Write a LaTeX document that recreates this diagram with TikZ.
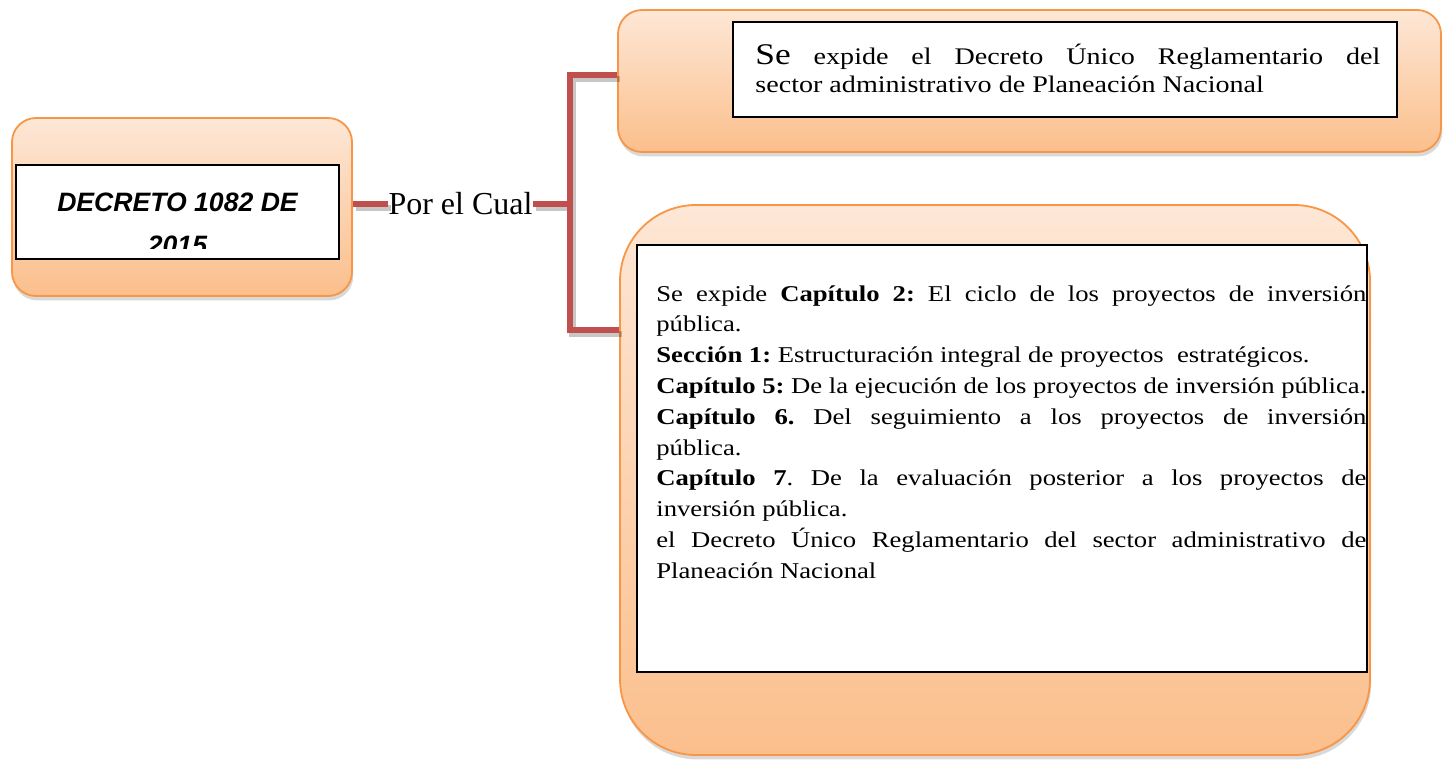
\documentclass[tikz,border=0pt]{standalone}
\usepackage{fontspec}
\setmainfont{Liberation Serif}
\newfontfamily\boxfont{Liberation Serif}[FakeStretch=1.18]
\newfontfamily\titlefont{Liberation Sans}
\usetikzlibrary{positioning,shadows}
\frenchspacing

\definecolor{peachtop}{HTML}{FDE7D6}
\definecolor{peachbot}{HTML}{FBBF8C}
\definecolor{orangeline}{HTML}{F79646}
\definecolor{branchred}{HTML}{C0504D}

\tikzset{
  mapbox/.style={draw=orangeline, line width=0.9pt, top color=peachtop, bottom color=peachbot,
    drop shadow={shadow xshift=0.6pt, shadow yshift=-2.2pt, opacity=0.3}},
  textbox/.style={draw=black, fill=white, line width=0.6pt},
  branch/.style={draw=branchred, line width=3pt,
    preaction={draw=black, opacity=0.22, line width=3.4pt, transform canvas={shift={(1.4pt,-2pt)}}}}
}

\begin{document}
\begin{tikzpicture}[x=0.5pt,y=-0.5pt]
\useasboundingbox (0,0) rectangle (1452,761);

 % el decreto
  \node[mapbox, rounded corners=12pt, minimum width=170pt, minimum height=89pt] (decreto) at (182,207) {};
  \node[textbox, minimum width=161.5pt, minimum height=47pt] (decretotxt) at (177.5,212) {};
  \begin{scope}
    \clip (16,165) rectangle (339,248);
    \node[font=\titlefont\bfseries\itshape\fontsize{13.3}{21.5}\selectfont, align=center, anchor=north, inner sep=0pt]
      (decretolbl) at (177.5,193) {DECRETO 1082 DE\\2015};
  \end{scope}

 % por el cual
  \node[font=\fontsize{16}{19}\selectfont, inner xsep=0pt, inner ysep=2pt] (porelcual) at (460.5,204) {Por el Cual};
  \coordinate (brtop) at (570,75);
  \coordinate (brbot) at (570,330);

 % las dos ramas
  \node[mapbox, rounded corners=12pt, minimum width=411.5pt, minimum height=71pt] (expide) at (1029.5,81) {};
  \node[textbox, minimum width=332pt, minimum height=47.5pt] (expidetxt) at (1065,69.5) {};
  \node[font=\boxfont\fontsize{11.9}{14}\selectfont, text width=312.5pt, align=justify, anchor=north west, inner sep=0pt]
    (expidelbl) at (755,44) {{\fontsize{15}{14}\selectfont Se} expide el Decreto Único Reglamentario del\linebreak
    sector administrativo de Planeación Nacional};

  \node[mapbox, rounded corners=38pt, minimum width=375pt, minimum height=275pt] (capitulos) at (995,480) {};
  \node[textbox, minimum width=365pt, minimum height=213.5pt] (capitulostxt) at (1002,458.5) {};
  \node[font=\boxfont\fontsize{11.3}{15.4}\selectfont, text width=355pt, align=justify, anchor=north west, inner sep=0pt]
    (capituloslbl) at (656,285) {Se expide \textbf{Capítulo 2:} El ciclo de los proyectos de inversión\linebreak pública.\\
    \textbf{Sección 1:} Estructuración integral de proyectos\ \ estratégicos.\\
    \textbf{Capítulo 5:} De la ejecución de los proyectos de inversión pública.\\
    \textbf{Capítulo 6.} Del seguimiento a los proyectos de inversión\linebreak pública.\\
    \textbf{Capítulo 7}. De la evaluación posterior a los proyectos de\linebreak inversión pública.\\
    el Decreto Único Reglamentario del sector administrativo de\linebreak Planeación Nacional};

 % conectores
  \draw[branch] (decreto.east |- porelcual.west) -- (porelcual.west);
  \draw[branch] (porelcual.east) -- (porelcual.east -| brtop);
  \draw[branch] (expide.west |- brtop) -- (brtop) -- (brbot) -- (capitulos.west |- brbot);
\end{tikzpicture}
\end{document}
